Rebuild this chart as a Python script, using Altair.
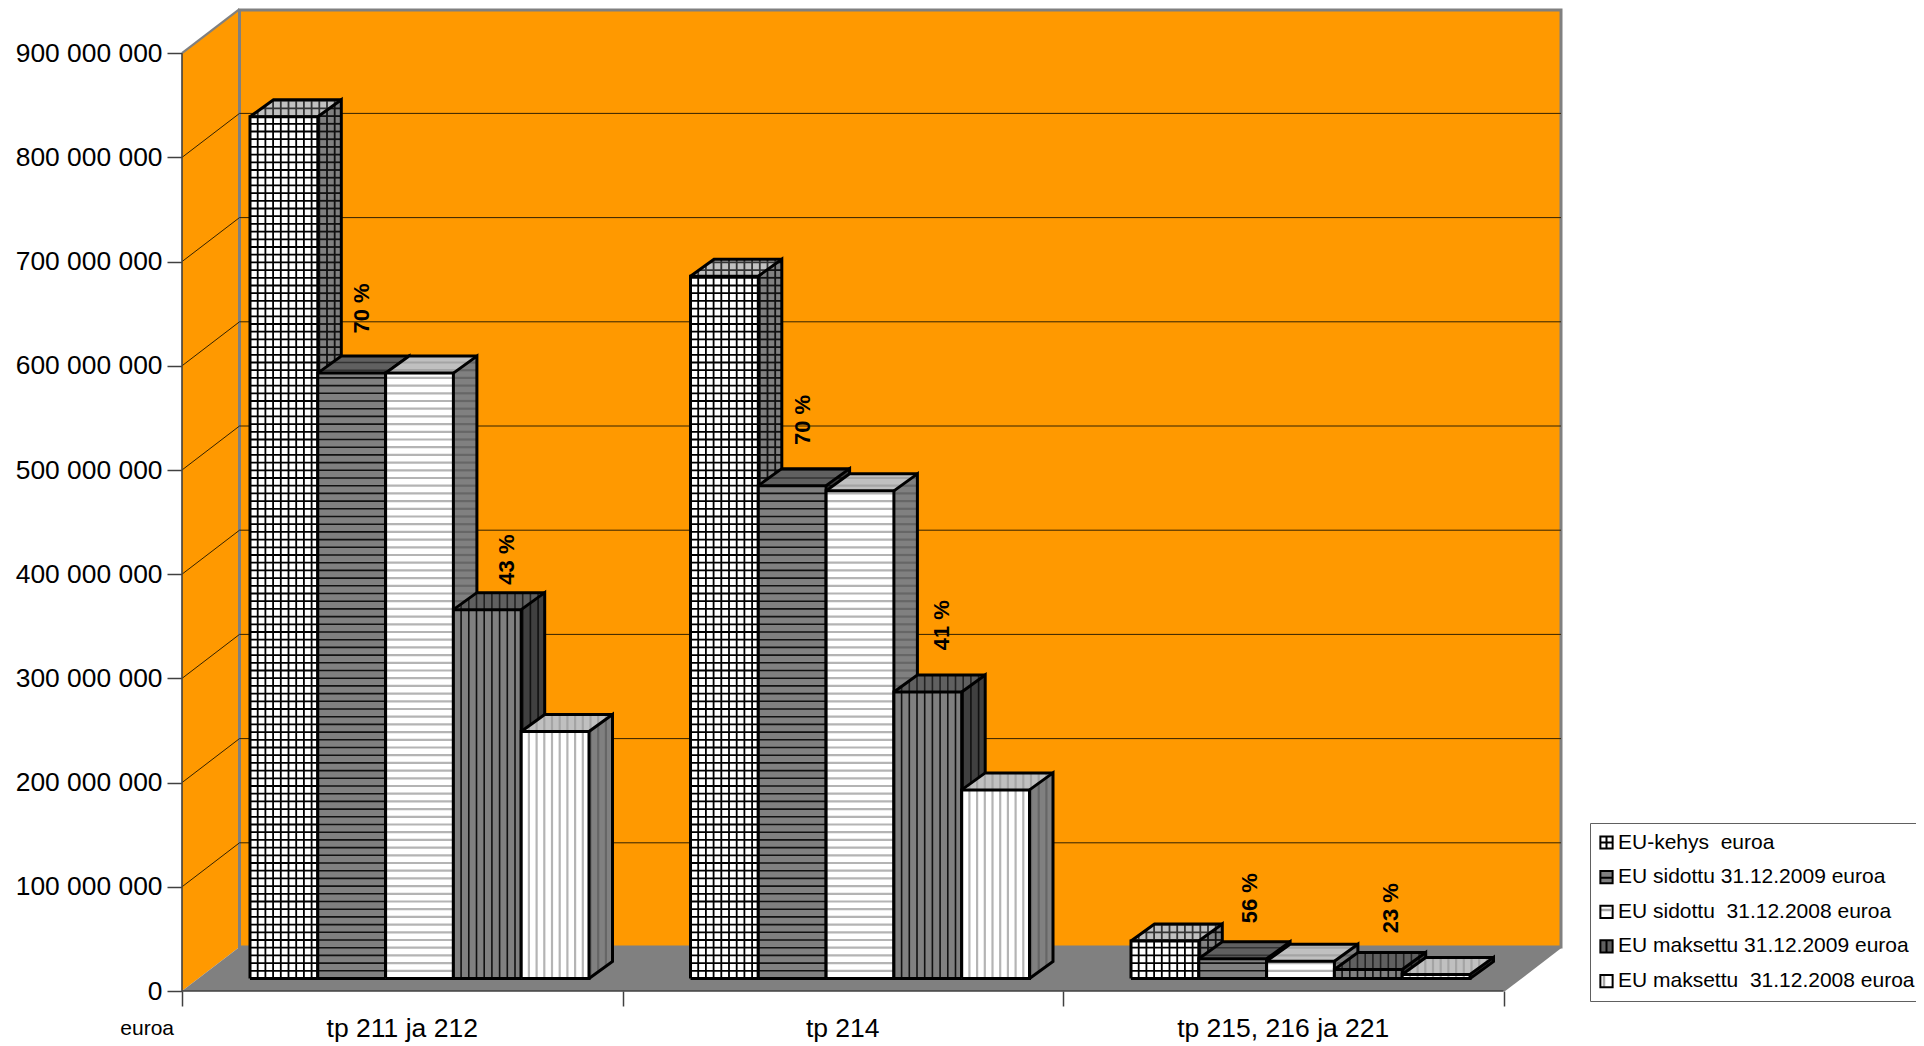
import altair as alt
import pandas as pd

categories = ["tp 211 ja 212", "tp 214", "tp 215, 216 ja 221"]
series = ["EU-kehys\u00a0 euroa", "EU sidottu 31.12.2009 euroa", "EU sidottu\u00a0 31.12.2008 euroa",
          "EU maksettu 31.12.2009 euroa", "EU maksettu\u00a0 31.12.2008 euroa"]
kehys = [827e6, 674e6, 36e6]
sidottu09 = [581e6, 473e6, 19e6]
sidottu08 = [581e6, 468e6, 16.6e6]
maksettu09 = [354e6, 275e6, 8.6e6]
maksettu08 = [237e6, 181e6, 3.8e6]
label_text = ["70 %", "43 %", "70 %", "41 %", "56 %", "23 %"]
label_x = [0.408, 0.737, 1.410, 1.726, 2.424, 2.745]
label_y = [655e6, 414e6, 548e6, 351e6, 89e6, 79.5e6]
y_ticks = [i * 100e6 for i in range(10)]

FONT = "Liberation Sans"
PX_X = 440.5            # pixels per category
PX_Y = 937.8 / 900e6    # pixels per euro
W, H = 1379, 981
XMAX = W / PX_X
YMAX = H / PX_Y
WALL_X = 57.5 / PX_X
WALL_Y = 44 / PX_Y
BAR_X0 = 68 / PX_X
BAR_W = 67.8 / PX_X
BASE = 12.5 / PX_Y
D_X = 23.5 / PX_X
D_Y = 17 / PX_Y
SX = 7.7 / PX_X
SY = 7.7 / PX_Y

xs = alt.Scale(domain=[0, XMAX], nice=False, zero=False)
ys = alt.Scale(domain=[0, YMAX], nice=False, zero=False)
x_axis = alt.Axis(values=[0, 1, 2, 3], labels=False, domain=False, grid=False, tickSize=15,
                  tickColor="#404040", tickWidth=1.5, title=None)
y_axis = alt.Axis(values=y_ticks, domain=False, grid=False, tickSize=15, tickColor="#404040", tickWidth=1.5,
                  title=None, labelFont=FONT, labelFontSize=26.4, labelColor="#000000", labelPadding=5,
                  labelExpr="replace(format(datum.value, ','), /,/g, ' ')")
X = alt.X("x:Q", scale=xs, axis=x_axis, title=None)
Y = alt.Y("y:Q", scale=ys, axis=y_axis, title=None)

styles = [
    dict(h=True, v=True, front=("#ffffff", "#000000", 1.8), side=("#808080", "#111111", 1.8), top=("#c0c0c0", "#333333", 1.8)),
    dict(h=True, v=False, front=("#808080", "#111111", 1.6), side=("#404040", "#111111", 1.6), top=("#606060", "#333333", 1.6)),
    dict(h=True, v=False, front=("#ffffff", "#b4b4b4", 2.2), side=("#808080", "#666666", 2.2), top=("#c0c0c0", "#a4a4a4", 2.2)),
    dict(h=False, v=True, front=("#808080", "#111111", 1.6), side=("#404040", "#111111", 1.6), top=("#606060", "#222222", 1.6)),
    dict(h=False, v=True, front=("#ffffff", "#b4b4b4", 2.2), side=("#808080", "#666666", 2.2), top=("#c0c0c0", "#a4a4a4", 2.2)),
]


def hatch(a, b, val, st):
    """Screen-aligned pattern lines clipped to the three faces of one bar."""
    top_lv = BASE + val
    rows = []

    def add(x, x2, y, y2, s):
        rows.append(dict(x=x, x2=x2, y=y, y2=y2, c=s[1], w=s[2]))

    if st["v"]:
        k = 1
        while a + k * SX < b + D_X:
            px = a + k * SX
            if px < b:
                add(px, px, BASE, top_lv, st["front"])
            low = top_lv if px <= b else top_lv + D_Y * (px - b) / D_X
            high = top_lv + D_Y * (px - a) / D_X if px < a + D_X else top_lv + D_Y
            add(px, px, low, high, st["top"])
            if px > b:
                t = (px - b) / D_X
                add(px, px, BASE + D_Y * t, top_lv + D_Y * t, st["side"])
            k += 1
    if st["h"]:
        k = 1
        while BASE + k * SY < top_lv + D_Y:
            lv = BASE + k * SY
            if lv < top_lv:
                add(a, b, lv, lv, st["front"])
            if lv > top_lv:
                t = (lv - top_lv) / D_Y
                add(a + D_X * t, b + D_X * t, lv, lv, st["top"])
            t0 = max(0.0, (lv - top_lv) / D_Y)
            t1 = min(1.0, (lv - BASE) / D_Y)
            if t1 > t0:
                add(b + D_X * t0, b + D_X * t1, lv, lv, st["side"])
            k += 1
    return pd.DataFrame(rows, columns=["x", "x2", "y", "y2", "c", "w"])


def bar_layers(g, s, val):
    a = g + BAR_X0 + s * BAR_W
    b = a + BAR_W
    t = BASE + val
    st = styles[s]
    fills = []
    for f, c, pts in [
        ("side", st["side"][0], [(b, t, BASE), (b + D_X, t + D_Y, BASE + D_Y)]),
        ("top", st["top"][0], [(a, t, t), (a + D_X, t + D_Y, t), (b, t + D_Y, t), (b + D_X, t + D_Y, t + D_Y)]),
        ("front", st["front"][0], [(a, t, BASE), (b, t, BASE)]),
    ]:
        for p in pts:
            fills.append(dict(face=f, fillc=c, x=p[0], y=p[1], y2=p[2]))
    fdf = pd.DataFrame(fills)
    area = alt.Chart(fdf).mark_area(interpolate="linear", opacity=1).encode(
        x=X, y=Y, y2=alt.Y2("y2:Q"), detail="face:N", color=alt.Color("fillc:N", scale=None)
    )
    rules = alt.Chart(hatch(a, b, val, st)).mark_rule().encode(
        x=X, x2=alt.X2("x2:Q"), y=Y, y2=alt.Y2("y2:Q"),
        color=alt.Color("c:N", scale=None), strokeWidth=alt.StrokeWidth("w:Q", scale=None)
    )
    outlines = {
        "front": [(a, BASE), (b, BASE), (b, t), (a, t), (a, BASE)],
        "side": [(b, BASE), (b + D_X, BASE + D_Y), (b + D_X, t + D_Y), (b, t)],
        "top": [(a, t), (a + D_X, t + D_Y), (b + D_X, t + D_Y)],
    }
    ol = [dict(face=f, i=i, x=p[0], y=p[1]) for f, pts in outlines.items() for i, p in enumerate(pts)]
    line = alt.Chart(pd.DataFrame(ol)).mark_line(color="#000000", strokeWidth=3, strokeJoin="miter").encode(
        x=X, y=Y, detail="face:N", order="i:Q"
    )
    return [area, rules, line]


layers = []

# legend carrier, hidden behind the back wall
paths = [
    "M-1,-1H1V1H-1Z M0,-1V1 M-1,0H1",
    "M-1,-1H1V1H-1Z M-1,0.1H1",
    "M-1,-1H1V1H-1Z",
    "M-1,-1H1V1H-1Z M0,-1V1",
    "M-1,-1H1V1H-1Z",
]
legend_fills = ["#ffffff", "#808080", "transparent", "#606060", "transparent"]
leg = alt.Legend(
    title=None, orient="none", legendX=1408, legendY=813, padding=9, rowPadding=12.65,
    labelFont=FONT, labelFontSize=21, labelColor="#000000", labelLimit=600, labelOffset=1,
    symbolStrokeWidth=2, symbolSize=150, symbolOffset=-3,
    strokeColor="#606060",
)
layers.append(
    alt.Chart(pd.DataFrame({"name": series, "x": [1.5] * 5, "y": [500e6] * 5})).mark_point(
        filled=True, strokeWidth=2, size=150, opacity=1
    ).encode(
        x=X, y=Y,
        fill=alt.Fill("name:N", scale=alt.Scale(domain=series, range=legend_fills), legend=leg),
        shape=alt.Shape("name:N", scale=alt.Scale(domain=series, range=paths), legend=leg),
        stroke=alt.Stroke("name:N", scale=alt.Scale(domain=series, range=["#000000"] * 5), legend=leg),
    )
)

# walls
left = pd.DataFrame({"x": [0, WALL_X], "y": [0, WALL_Y], "y2": [900e6, 900e6 + WALL_Y]})
layers.append(alt.Chart(left).mark_area(color="#FF9900", interpolate="linear").encode(x=X, y=Y, y2=alt.Y2("y2:Q")))
back = pd.DataFrame({"x": [WALL_X], "x2": [XMAX], "y": [WALL_Y], "y2": [YMAX]})
layers.append(alt.Chart(back).mark_rect(color="#FF9900", stroke="#808080", strokeWidth=3).encode(
    x=X, x2=alt.X2("x2:Q"), y=Y, y2=alt.Y2("y2:Q")))
floor = pd.DataFrame({"x": [0, WALL_X, 3, XMAX], "y": [0, 0, 0, WALL_Y], "y2": [0, WALL_Y, WALL_Y, WALL_Y]})
layers.append(alt.Chart(floor).mark_area(color="#808080", interpolate="linear").encode(x=X, y=Y, y2=alt.Y2("y2:Q")))

grid_vals = y_ticks[1:9]
g1 = pd.DataFrame({"x": [0.0] * 8, "x2": [WALL_X] * 8, "y": grid_vals, "y2": [v + WALL_Y for v in grid_vals]})
g2 = pd.DataFrame({"x": [WALL_X] * 8, "x2": [XMAX] * 8, "y": [v + WALL_Y for v in grid_vals], "y2": [v + WALL_Y for v in grid_vals]})
for gdf in (g1, g2):
    layers.append(alt.Chart(gdf).mark_rule(color="#332200", strokeWidth=1).encode(
        x=X, x2=alt.X2("x2:Q"), y=Y, y2=alt.Y2("y2:Q")))

# wall edges
edge = pd.DataFrame({"x": [0.0, WALL_X, 3.0], "x2": [WALL_X, WALL_X, XMAX], "y": [900e6, 900e6 + WALL_Y, 0.0],
                     "y2": [900e6 + WALL_Y, YMAX, WALL_Y]})
layers.append(alt.Chart(edge).mark_rule(color="#808080", strokeWidth=2.2).encode(
    x=X, x2=alt.X2("x2:Q"), y=Y, y2=alt.Y2("y2:Q")))
ax_line = pd.DataFrame({"x": [0.0, 0.0], "x2": [0.0, 3.0], "y": [0.0, 0.0], "y2": [900e6, 0.0]})
layers.append(alt.Chart(ax_line).mark_rule(color="#404040", strokeWidth=1.6).encode(
    x=X, x2=alt.X2("x2:Q"), y=Y, y2=alt.Y2("y2:Q")))

# bars, left to right so each covers the side of its neighbour
all_series = [kehys, sidottu09, sidottu08, maksettu09, maksettu08]
for g in range(3):
    for s in range(5):
        layers.extend(bar_layers(g, s, all_series[s][g]))

# percentage labels
layers.append(
    alt.Chart(pd.DataFrame({"t": label_text, "x": label_x, "y": label_y})).mark_text(
        angle=270, font=FONT, fontWeight="bold", fontSize=22, color="#000000", align="center", baseline="middle"
    ).encode(x=X, y=Y, text="t:N")
)

# category labels and unit
layers.append(
    alt.Chart(pd.DataFrame({"t": categories, "x": [0.5, 1.5, 2.5]})).mark_text(
        font=FONT, fontSize=26.5, color="#000000", align="center", baseline="middle"
    ).encode(x=X, y=alt.value(1029 - 10), text="t:N")
)
layers.append(
    alt.Chart(pd.DataFrame({"t": ["euroa"]})).mark_text(
        font=FONT, fontSize=21, color="#000000", align="right", baseline="middle"
    ).encode(x=alt.value(-8), y=alt.value(1029 - 10), text="t:N")
)

# grey bands in the two pale legend swatches
layers.append(alt.Chart(pd.DataFrame({"a": [0]})).mark_rule(color="#a8a8a8", strokeWidth=2.5).encode(
    x=alt.value(1418), x2=alt.value(1429), y=alt.value(900)))
layers.append(alt.Chart(pd.DataFrame({"a": [0]})).mark_rule(color="#a8a8a8", strokeWidth=2.5).encode(
    x=alt.value(1422), y=alt.value(966), y2=alt.value(978)))

chart = alt.layer(*layers).properties(
    width=W, height=H,
    padding={"left": 174, "top": 2, "right": 355, "bottom": 51},
    autosize=alt.AutoSizeParams(type="none"),
    background="#ffffff",
).configure_view(stroke=None)

chart.save("out.html", embed_options={"renderer": "svg", "actions": False})
